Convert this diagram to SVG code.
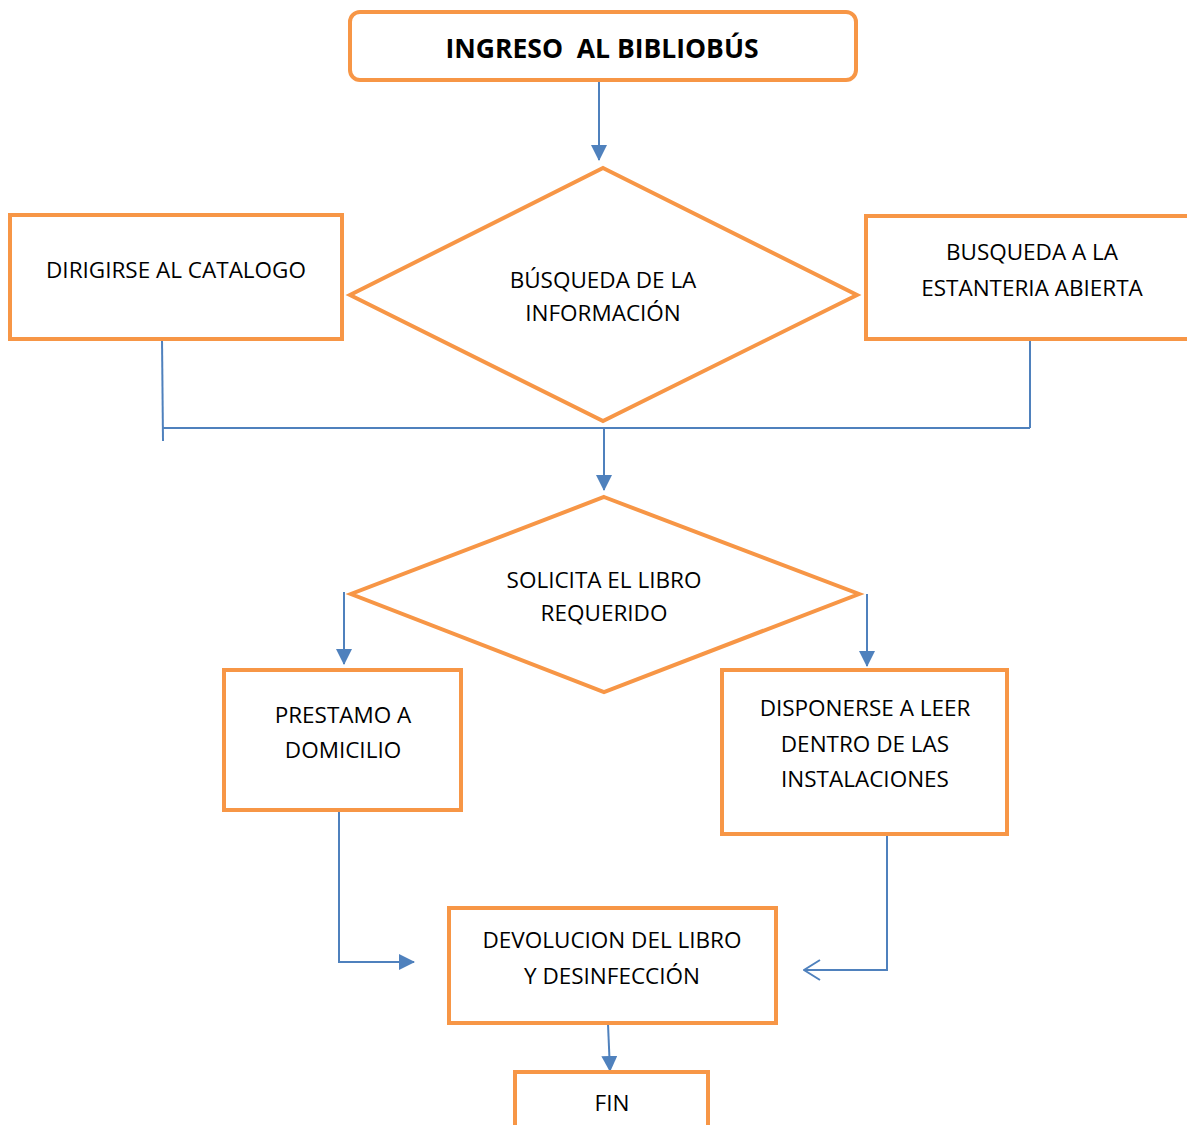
<svg xmlns="http://www.w3.org/2000/svg" width="1187" height="1125" viewBox="0 0 1187 1125">
<defs>
<style>
.n{fill:#fff;stroke:#F79646;stroke-width:4}
.t{font-family:"Open Sans","Liberation Sans",sans-serif;font-size:22.5px;fill:#000;text-anchor:middle}
.b{font-weight:bold;font-size:26.5px;white-space:pre}
.c{fill:none;stroke:#4F81BD;stroke-width:2}
</style>
<marker id="fb" markerWidth="16" markerHeight="16" refX="15" refY="8" orient="auto" markerUnits="userSpaceOnUse" viewBox="0 0 16 16"><path d="M0,0 L16,8 L0,16 z" fill="#4F81BD"/></marker>
<marker id="oa" markerWidth="18" markerHeight="22" refX="17" refY="11" orient="auto" markerUnits="userSpaceOnUse" viewBox="0 0 18 22"><path d="M1,1 L17,11 L1,21" fill="none" stroke="#4F81BD" stroke-width="2"/></marker>
</defs>
<rect width="1187" height="1125" fill="#fff"/>
<g id="connectors">
<line class="c" x1="599" y1="82" x2="599" y2="160" marker-end="url(#fb)"/>
<polyline class="c" points="162,339 163,441"/>
<line class="c" x1="163" y1="428" x2="1030" y2="428"/>
<line class="c" x1="1030" y1="340" x2="1030" y2="428"/>
<line class="c" x1="604" y1="428" x2="604" y2="490" marker-end="url(#fb)"/>
<line class="c" x1="344" y1="592" x2="344" y2="664" marker-end="url(#fb)"/>
<line class="c" x1="867" y1="594" x2="867" y2="666" marker-end="url(#fb)"/>
<polyline class="c" points="339,812 339,962 414,962" marker-end="url(#fb)"/>
<polyline class="c" points="887,835 887,970 804,970" marker-end="url(#oa)"/>
<line class="c" x1="608" y1="1024" x2="610" y2="1071" marker-end="url(#fb)"/>
</g>
<g id="ingreso">
<rect class="n" x="350" y="12" width="506" height="68" rx="10"/>
<text class="t b" x="602" y="58" xml:space="preserve">INGRESO  AL BIBLIOBÚS</text>
</g>
<g id="busqueda">
<polygon class="n" points="603,168 857,295 603,421 350,295"/>
<text class="t" x="603" y="288">BÚSQUEDA DE LA</text>
<text class="t" x="603" y="321">INFORMACIÓN</text>
</g>
<g id="catalogo">
<rect class="n" x="10" y="215" width="332" height="124"/>
<text class="t" x="176" y="278">DIRIGIRSE AL CATALOGO</text>
</g>
<g id="estanteria">
<rect class="n" x="866" y="216" width="330" height="123"/>
<text class="t" x="1032" y="260">BUSQUEDA A LA</text>
<text class="t" x="1032" y="296">ESTANTERIA ABIERTA</text>
</g>
<g id="solicita">
<polygon class="n" points="604,497 859,594 604,692 351,594"/>
<text class="t" x="604" y="588">SOLICITA EL LIBRO</text>
<text class="t" x="604" y="621">REQUERIDO</text>
</g>
<g id="prestamo">
<rect class="n" x="224" y="670" width="237" height="140"/>
<text class="t" x="343" y="723">PRESTAMO A</text>
<text class="t" x="343" y="758">DOMICILIO</text>
</g>
<g id="disponerse">
<rect class="n" x="722" y="670" width="285" height="164"/>
<text class="t" x="865" y="716">DISPONERSE A LEER</text>
<text class="t" x="865" y="752">DENTRO DE LAS</text>
<text class="t" x="865" y="787">INSTALACIONES</text>
</g>
<g id="devolucion">
<rect class="n" x="449" y="908" width="327" height="115"/>
<text class="t" x="612" y="948">DEVOLUCION DEL LIBRO</text>
<text class="t" x="612" y="984">Y DESINFECCIÓN</text>
</g>
<g id="fin">
<rect class="n" x="515" y="1072" width="193" height="70"/>
<text class="t" x="612" y="1111">FIN</text>
</g>
</svg>
